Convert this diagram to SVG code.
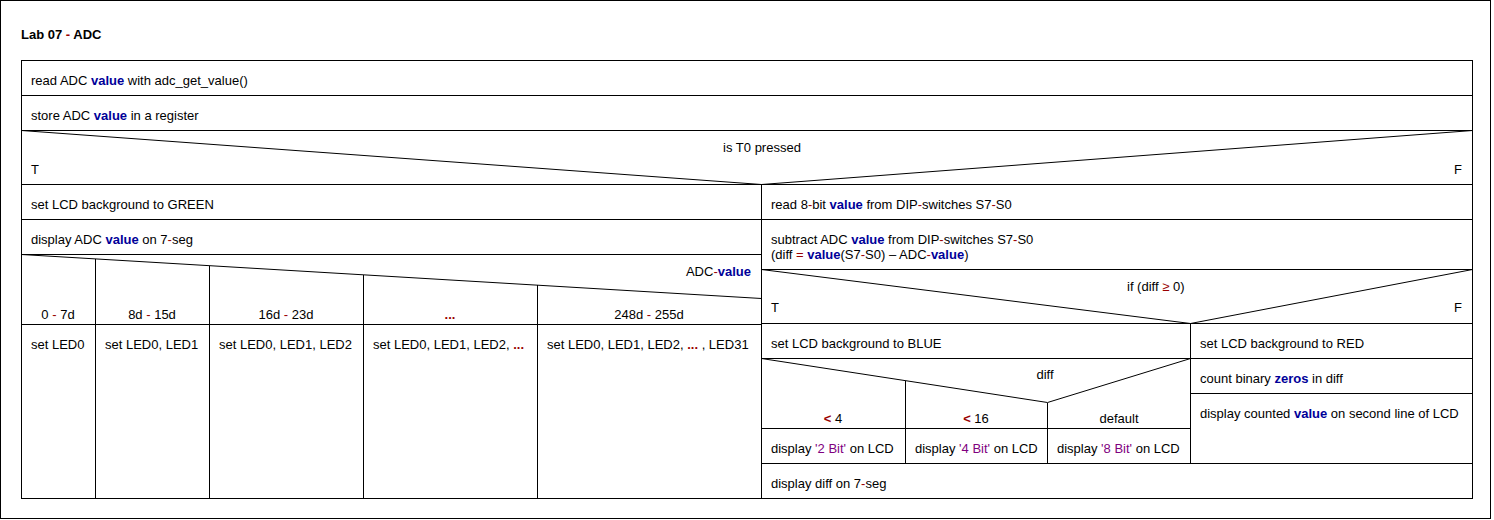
<svg xmlns="http://www.w3.org/2000/svg" width="1494" height="520" viewBox="0 0 1494 520">
<style>
.t{font-family:"Liberation Sans",Arial,sans-serif;font-size:13px;fill:#000}
.tb{font-family:"Liberation Sans",Arial,sans-serif;font-size:13px;font-weight:bold;fill:#000}
.m{text-anchor:middle}
.e{text-anchor:end}
.v{fill:#000099;font-weight:bold}
.r{fill:#990000}
.rb{fill:#990000;font-weight:bold}
.p{fill:#800080}
.b{fill:#fff;stroke:#000;stroke-width:1;shape-rendering:crispEdges}
.l{stroke:#000;stroke-width:1;fill:none;shape-rendering:crispEdges}
.d{stroke:#000;stroke-width:1;fill:none}
</style>
<rect x="0" y="0" width="1494" height="520" fill="#fff"/>
<rect x="0.5" y="0.5" width="1490" height="518" class="b"/>
<text id="title" class="tb" x="21" y="39">Lab 07 <tspan class="r">-</tspan> ADC</text>

<g id="n1"><rect x="21.5" y="60.5" width="1451" height="35" class="b"/>
<text class="t" x="31" y="85">read ADC <tspan class="v">value</tspan> with adc_get_value()</text></g>

<g id="n2"><rect x="21.5" y="95.5" width="1451" height="35" class="b"/>
<text class="t" x="31" y="120">store ADC <tspan class="v">value</tspan> in a register</text></g>

<g id="if1"><rect x="21.5" y="130.5" width="1451" height="54" class="b"/>
<polyline points="21.5,130.5 761.5,184.5 1472.5,130.5" class="d"/>
<text class="t m" x="762" y="152">is T0 pressed</text>
<text class="t" x="31" y="174">T</text>
<text class="t e" x="1462" y="174">F</text></g>

<g id="n3"><rect x="21.5" y="184.5" width="740" height="35" class="b"/>
<text class="t" x="31" y="209">set LCD background to GREEN</text></g>

<g id="n4"><rect x="21.5" y="219.5" width="740" height="35" class="b"/>
<text class="t" x="31" y="244">display ADC <tspan class="v">value</tspan> on 7<tspan class="r">-</tspan>seg</text></g>

<g id="case1"><rect x="21.5" y="254.5" width="740" height="70" class="b"/>
<line x1="21.5" y1="254.5" x2="761.5" y2="298.5" class="d"/>
<line x1="95.5" y1="258.9" x2="95.5" y2="324.5" class="l"/>
<line x1="209.5" y1="265.7" x2="209.5" y2="324.5" class="l"/>
<line x1="363.5" y1="274.8" x2="363.5" y2="324.5" class="l"/>
<line x1="537.5" y1="285.2" x2="537.5" y2="324.5" class="l"/>
<text class="t e" x="751" y="276">ADC<tspan class="r">-</tspan><tspan class="v">value</tspan></text>
<text class="t m" x="58" y="319">0 <tspan class="r">-</tspan> 7d</text>
<text class="t m" x="152" y="319">8d <tspan class="r">-</tspan> 15d</text>
<text class="t m" x="286" y="319">16d <tspan class="r">-</tspan> 23d</text>
<text class="t m" x="450" y="319"><tspan class="rb">...</tspan></text>
<text class="t m" x="649" y="319">248d <tspan class="r">-</tspan> 255d</text></g>

<g id="c1"><rect x="21.5" y="324.5" width="74" height="174" class="b"/>
<text class="t" x="31" y="349">set LED0</text></g>
<g id="c2"><rect x="95.5" y="324.5" width="114" height="174" class="b"/>
<text class="t" x="105" y="349">set LED0, LED1</text></g>
<g id="c3"><rect x="209.5" y="324.5" width="154" height="174" class="b"/>
<text class="t" x="219" y="349">set LED0, LED1, LED2</text></g>
<g id="c4"><rect x="363.5" y="324.5" width="174" height="174" class="b"/>
<text class="t" x="373" y="349">set LED0, LED1, LED2, <tspan class="rb">...</tspan></text></g>
<g id="c5"><rect x="537.5" y="324.5" width="224" height="174" class="b"/>
<text class="t" x="547" y="349">set LED0, LED1, LED2, <tspan class="rb">...</tspan> , LED31</text></g>

<g id="n5"><rect x="761.5" y="184.5" width="711" height="35" class="b"/>
<text class="t" x="771" y="209">read 8<tspan class="r">-</tspan>bit <tspan class="v">value</tspan> from DIP<tspan class="r">-</tspan>switches S7<tspan class="r">-</tspan>S0</text></g>

<g id="n6"><rect x="761.5" y="219.5" width="711" height="50" class="b"/>
<text class="t" x="771" y="244">subtract ADC <tspan class="v">value</tspan> from DIP<tspan class="r">-</tspan>switches S7<tspan class="r">-</tspan>S0</text>
<text class="t" x="771" y="259">(diff <tspan class="r">=</tspan> <tspan class="v">value</tspan>(S7<tspan class="r">-</tspan>S0) – ADC<tspan class="r">-</tspan><tspan class="v">value</tspan>)</text></g>

<g id="if2"><rect x="761.5" y="269.5" width="711" height="54" class="b"/>
<polyline points="761.5,269.5 1190.5,323.5 1472.5,269.5" class="d"/>
<text class="t" x="1127" y="291">if (diff <tspan class="r">≥</tspan> 0)</text>
<text class="t" x="771" y="312">T</text>
<text class="t e" x="1462" y="312">F</text></g>

<g id="n7"><rect x="761.5" y="323.5" width="429" height="35" class="b"/>
<text class="t" x="771" y="348">set LCD background to BLUE</text></g>

<g id="case2"><rect x="761.5" y="358.5" width="429" height="70" class="b"/>
<polyline points="761.5,358.5 1047.5,402.5 1190.5,358.5" class="d"/>
<line x1="905.5" y1="380.6" x2="905.5" y2="428.5" class="l"/>
<line x1="1047.5" y1="402.5" x2="1047.5" y2="428.5" class="l"/>
<text class="t m" x="1045" y="379">diff</text>
<text class="t m" x="833" y="423"><tspan class="rb">&lt;</tspan> 4</text>
<text class="t m" x="976" y="423"><tspan class="rb">&lt;</tspan> 16</text>
<text class="t m" x="1119" y="423">default</text></g>

<g id="d1"><rect x="761.5" y="428.5" width="144" height="35" class="b"/>
<text class="t" x="771" y="453">display <tspan class="p">'2 Bit'</tspan> on LCD</text></g>
<g id="d2"><rect x="905.5" y="428.5" width="142" height="35" class="b"/>
<text class="t" x="915" y="453">display <tspan class="p">'4 Bit'</tspan> on LCD</text></g>
<g id="d3"><rect x="1047.5" y="428.5" width="143" height="35" class="b"/>
<text class="t" x="1057" y="453">display <tspan class="p">'8 Bit'</tspan> on LCD</text></g>

<g id="n8"><rect x="1190.5" y="323.5" width="282" height="35" class="b"/>
<text class="t" x="1200" y="348">set LCD background to RED</text></g>
<g id="n9"><rect x="1190.5" y="358.5" width="282" height="35" class="b"/>
<text class="t" x="1200" y="383">count binary <tspan class="v">zeros</tspan> in diff</text></g>
<g id="n10"><rect x="1190.5" y="393.5" width="282" height="70" class="b"/>
<text class="t" x="1200" y="418">display counted <tspan class="v">value</tspan> on second line of LCD</text></g>

<g id="n11"><rect x="761.5" y="463.5" width="711" height="35" class="b"/>
<text class="t" x="771" y="488">display diff on 7<tspan class="r">-</tspan>seg</text></g>

<g id="connectors"></g>
</svg>
